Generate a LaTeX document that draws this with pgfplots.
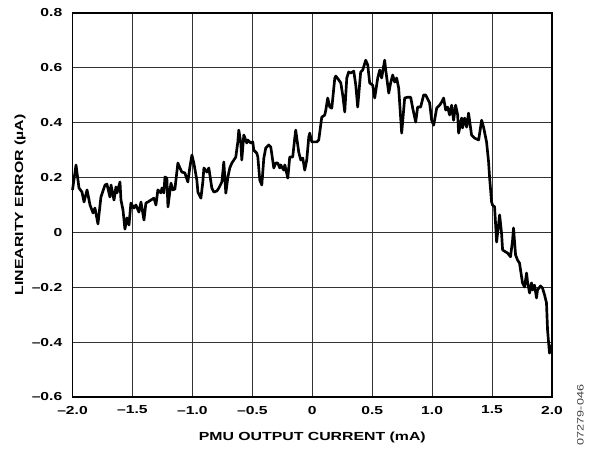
\documentclass[border=0pt]{standalone}
\usepackage{pgfplots}
\pgfplotsset{compat=1.18}
\usepackage{fontspec}
\setmainfont{Liberation Sans}[FakeStretch=1.35]

\begin{document}
\begin{tikzpicture}
% fixed page: 592 x 450 px at 0.75 pt per px
\useasboundingbox (-54.4pt,-39.75pt) rectangle (389.6pt,297.75pt);
\begin{axis}[
  at={(0,0)}, anchor=south west,
  scale only axis,
  width=359.6pt,
  height=288pt,
  xmin=-2, xmax=2,
  ymin=-0.6, ymax=0.8,
  xtick={-2,-1.5,-1,-0.5,0,0.5,1,1.5,2},
  xticklabels={–2.0,–1.5,–1.0,–0.5,0,0.5,1.0,1.5,2.0},
  ytick={-0.6,-0.4,-0.2,0,0.2,0.4,0.6,0.8},
  yticklabels={–0.6,–0.4,–0.2,0,0.2,0.4,0.6,0.8},
  grid=major,
  major grid style={black!80, line width=0.7pt},
  axis line style={line width=1pt},
  tick style={draw=none},
  ticklabel style={font=\bfseries\fontsize{8.7}{10}\selectfont},
  xticklabel style={inner sep=0pt, anchor=north, yshift=-6.5pt},
  yticklabel style={inner sep=0pt, anchor=east, xshift=-7.5pt},
  label style={font=\bfseries\fontsize{8.8}{10}\selectfont},
  xlabel={PMU OUTPUT CURRENT (mA)},
  ylabel={LINEARITY ERROR (µA)},
  xlabel style={at={(axis description cs:0.5,-0.1042)}, anchor=center},
  ylabel style={at={(axis description cs:-0.1096,0.5)}, anchor=center},
  clip=false,
]
\addplot[black, line width=2pt, line join=round] coordinates {
(-2.0,0.155) (-1.971,0.246) (-1.946,0.162) (-1.921,0.147) (-1.904,0.111)
(-1.879,0.155) (-1.854,0.100) (-1.829,0.071) (-1.813,0.089) (-1.788,0.031)
(-1.763,0.129) (-1.729,0.173) (-1.713,0.176) (-1.688,0.129) (-1.679,0.173)
(-1.654,0.118) (-1.638,0.166) (-1.629,0.144) (-1.604,0.184) (-1.596,0.118)
(-1.579,0.082) (-1.563,0.012) (-1.546,0.053) (-1.529,0.027) (-1.513,0.107)
(-1.488,0.089) (-1.471,0.100) (-1.446,0.074) (-1.429,0.111) (-1.404,0.045)
(-1.388,0.107) (-1.371,0.111) (-1.346,0.118) (-1.321,0.125) (-1.304,0.100)
(-1.288,0.155) (-1.263,0.144) (-1.254,0.162) (-1.238,0.144) (-1.229,0.202)
(-1.213,0.198) (-1.204,0.093) (-1.179,0.180) (-1.163,0.155) (-1.146,0.158)
(-1.121,0.253) (-1.104,0.235) (-1.088,0.220) (-1.063,0.217) (-1.038,0.184)
(-1.021,0.238) (-1.004,0.282) (-0.988,0.253) (-0.963,0.191) (-0.954,0.147)
(-0.929,0.125) (-0.913,0.184) (-0.904,0.235) (-0.879,0.220) (-0.863,0.235)
(-0.838,0.162) (-0.821,0.147) (-0.796,0.151) (-0.779,0.162) (-0.754,0.184)
(-0.738,0.257) (-0.721,0.143) (-0.704,0.202) (-0.688,0.235) (-0.671,0.253)
(-0.654,0.264) (-0.638,0.275) (-0.621,0.330) (-0.613,0.373) (-0.596,0.326)
(-0.588,0.264) (-0.571,0.355) (-0.546,0.326) (-0.538,0.337) (-0.513,0.326)
(-0.496,0.330) (-0.488,0.300) (-0.463,0.289) (-0.454,0.275) (-0.438,0.191)
(-0.421,0.173) (-0.404,0.271) (-0.388,0.308) (-0.363,0.319) (-0.346,0.311)
(-0.321,0.235) (-0.304,0.253) (-0.288,0.253) (-0.271,0.235) (-0.263,0.246)
(-0.238,0.227) (-0.229,0.246) (-0.204,0.198) (-0.188,0.275) (-0.163,0.275)
(-0.146,0.344) (-0.138,0.373) (-0.113,0.293) (-0.096,0.264) (-0.079,0.271)
(-0.063,0.227) (-0.046,0.264) (-0.029,0.348) (-0.021,0.362) (-0.004,0.330)
(0.013,0.330) (0.038,0.330) (0.054,0.337) (0.063,0.366) (0.079,0.420)
(0.104,0.428) (0.113,0.446) (0.129,0.490) (0.146,0.457) (0.163,0.453)
(0.188,0.563) (0.196,0.570) (0.221,0.556) (0.238,0.545) (0.254,0.501)
(0.271,0.439) (0.288,0.563) (0.304,0.585) (0.321,0.581) (0.346,0.588)
(0.363,0.537) (0.379,0.457) (0.404,0.585) (0.421,0.592) (0.446,0.628)
(0.463,0.610) (0.479,0.545) (0.504,0.537) (0.521,0.490) (0.546,0.563)
(0.563,0.592) (0.579,0.563) (0.604,0.628) (0.613,0.592) (0.638,0.508)
(0.654,0.545) (0.671,0.574) (0.688,0.548) (0.704,0.563) (0.721,0.526)
(0.746,0.362) (0.771,0.490) (0.796,0.493) (0.821,0.493) (0.838,0.453)
(0.863,0.402) (0.879,0.457) (0.904,0.457) (0.929,0.501) (0.946,0.501)
(0.979,0.472) (0.996,0.409) (1.013,0.391) (1.038,0.453) (1.063,0.464)
(1.079,0.475) (1.096,0.490) (1.113,0.446) (1.129,0.457) (1.146,0.428)
(1.163,0.464) (1.179,0.409) (1.196,0.464) (1.213,0.428) (1.221,0.362)
(1.246,0.417) (1.254,0.381) (1.271,0.417) (1.288,0.384) (1.304,0.435)
(1.329,0.355) (1.354,0.344) (1.388,0.337) (1.413,0.409) (1.429,0.384)
(1.454,0.330) (1.471,0.257) (1.479,0.202) (1.496,0.111) (1.504,0.100)
(1.521,0.093) (1.538,-0.035) (1.563,0.064) (1.579,-0.002) (1.588,-0.064)
(1.613,-0.071) (1.629,-0.075) (1.654,-0.089) (1.671,-0.028) (1.679,0.016)
(1.696,-0.082) (1.713,-0.101) (1.729,-0.112) (1.754,-0.184) (1.771,-0.199)
(1.788,-0.148) (1.796,-0.181) (1.813,-0.221) (1.829,-0.184) (1.838,-0.210)
(1.854,-0.192) (1.871,-0.239) (1.879,-0.210) (1.904,-0.195) (1.921,-0.203)
(1.938,-0.228) (1.954,-0.257) (1.963,-0.356) (1.979,-0.440) (1.996,-0.410)
};
\node[rotate=90, font=\fontsize{7}{8}\selectfont, text=black!75]
  at ([xshift=21.4pt, yshift=-13.5pt]rel axis cs:1,0) {07279-046};
\end{axis}
\end{tikzpicture}
\end{document}
